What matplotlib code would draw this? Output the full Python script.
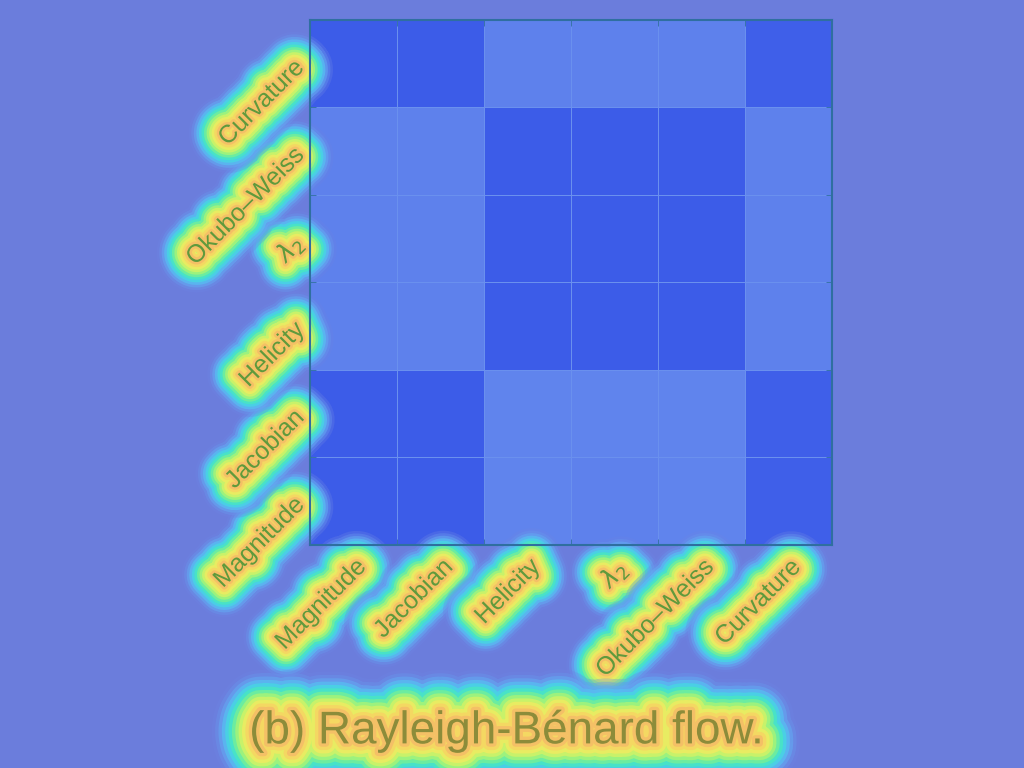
import numpy as np
import matplotlib.pyplot as plt
import matplotlib.patheffects as pe
from matplotlib.colors import LinearSegmentedColormap

plt.rcParams['font.family'] = ['Liberation Sans', 'DejaVu Sans']

# feature names (rows listed bottom -> top, columns left -> right)
features = ['Magnitude', 'Jacobian', 'Helicity', r'$\lambda_2$', 'Okubo\u2013Weiss', 'Curvature']

# similarity matrix, row 0 = Magnitude (bottom)
sim = np.array([
    [0.95, 0.95, 0.20, 0.25, 0.20, 0.90],
    [0.95, 0.95, 0.20, 0.20, 0.20, 0.90],
    [0.25, 0.25, 0.95, 0.95, 0.95, 0.25],
    [0.25, 0.25, 0.95, 0.95, 0.95, 0.25],
    [0.25, 0.25, 0.95, 0.95, 0.95, 0.25],
    [0.95, 0.95, 0.25, 0.25, 0.25, 0.90],
])

title = '(b) Rayleigh-B\u00e9nard flow.'

bg = '#6b7ddc'
cmap = LinearSegmentedColormap.from_list('sal', ['#6a8eee', '#3a5ae8'])

# soft halo behind the text, outer -> inner
halo_cols = ['#6b84e4', '#6896ec', '#62aaf2', '#56c0f2', '#48d4e4', '#48e2c8',
             '#6ceca0', '#9cf27e', '#c8f26a', '#e8ec62', '#f4d862', '#f4c066']
halo_alpha = [0.3, 0.4, 0.55, 0.7, 0.85, 1, 1, 1, 1, 1, 1, 1]

def glow(w):
    k = len(halo_cols)
    out = []
    for i, (c, a) in enumerate(zip(halo_cols, halo_alpha)):
        out.append(pe.Stroke(linewidth=w * (k - i) / k, foreground=c, alpha=a))
    out.append(pe.Normal())
    return out

fig = plt.figure(figsize=(10.24, 7.68), dpi=100, facecolor=bg)
ax = fig.add_axes([0.3027, 0.2904, 0.5098, 0.6836])
ax.set_facecolor(bg)

n = len(features)
ax.pcolormesh(np.arange(n + 1), np.arange(n + 1), sim, cmap=cmap, vmin=0, vmax=1,
              edgecolors='#6a90ee', linewidth=0.4)
ax.set_xlim(0, n)
ax.set_ylim(0, n)

ax.set_xticks(np.arange(n) + 0.5)
ax.set_yticks(np.arange(n) + 0.5)
ax.set_xticklabels(features, rotation=45, ha='right', va='top', rotation_mode='anchor',
                   fontsize=18, color='#5f9a3c')
ax.set_yticklabels(features, rotation=45, ha='right', va='center', rotation_mode='anchor',
                   fontsize=18, color='#5f9a3c')
ax.tick_params(which='major', length=0, pad=7)
ax.set_xticks(np.arange(1, n), minor=True)
ax.set_yticks(np.arange(1, n), minor=True)
ax.tick_params(which='minor', direction='in', length=4, color='#2f6fa0',
               top=True, right=True)
for lab in ax.get_xticklabels() + ax.get_yticklabels():
    lab.set_path_effects(glow(44))

for s in ax.spines.values():
    s.set_color('#2f6fa0')
    s.set_linewidth(1.5)

fig.text(0.495, 0.048, title, ha='center', va='center', fontsize=33,
         color='#8c8c3a', path_effects=glow(58))

fig.savefig('out.png', dpi=100, facecolor=bg)
